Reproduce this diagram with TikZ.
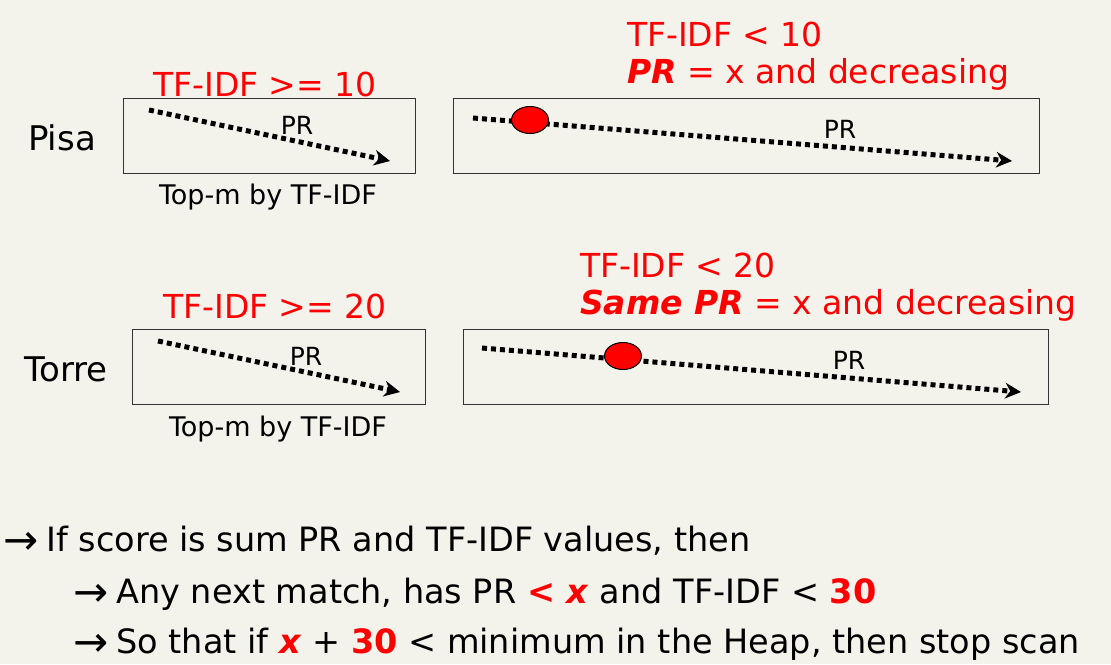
\documentclass[tikz,border=0pt]{standalone}
\usepackage{fontspec}
\usepackage{xcolor}
\usetikzlibrary{arrows.meta,shapes.geometric}
\setmainfont{DejaVu Sans}
\definecolor{paper}{HTML}{F3F2EB}
\def\big{\fontsize{33}{40}\selectfont}
\def\name{\fontsize{34}{40}\selectfont}
\def\mid{\fontsize{27}{32}\selectfont}
\def\small{\fontsize{25}{30}\selectfont}
\def\bottom{\fontsize{33.5}{40}\selectfont}
\def\bullet{\raisebox{-3pt}{\fontsize{42}{40}\selectfont →}\hspace{8pt}}
\tikzset{
  listbox/.style={draw=black!80, line width=1pt},
  scanline/.style={line width=5pt, dash pattern=on 5pt off 4pt, -{Stealth[length=16pt,width=16pt,line width=0pt]}},
  hit/.style={ellipse, draw=black, line width=1pt, fill=red, minimum width=37pt, minimum height=27pt, inner sep=0pt},
  cond/.style={text=red, font=\big, inner sep=0pt},
  concl/.style={font=\bottom, anchor=west, inner sep=0pt},
}

\begin{document}
\begin{tikzpicture}[x=1pt,y=-1pt]
\fill[paper] (0,0) rectangle (1111,664);
\useasboundingbox (0,0) rectangle (1111,664);

% Pisa
\node[font=\name] (pisa) at (62,138) {Pisa};
\draw[listbox] (123,98) rectangle (415,173);
\draw[listbox] (453,98) rectangle (1039,173);
\node[cond] (pisatop) at (265,84) {TF-IDF >= 10};
\node[font=\mid] (pisatopm) at (268,197) {Top-m by TF-IDF};
\coordinate (pisaa) at (149,110);
\coordinate (pisab) at (390,161);
\draw[scanline] (pisaa) -- (pisab);
\node[font=\small] (pisapr) at (297,125) {PR};
\coordinate (pisac) at (473,118);
\coordinate (pisad) at (1012,161);
\draw[scanline] (pisac) -- (pisad);
\node[hit] (pisahit) at (530,120) {};
\node[font=\small] (pisapr2) at (840,129) {PR};
\node[cond, anchor=west] (pisalow) at (627,34) {TF-IDF < 10};
\node[cond, anchor=west] (pisapr3) at (627,74) {\textbf{\textit{PR}} = x and decreasing};

% Torre
\node[font=\name] (torre) at (66,369) {Torre};
\draw[listbox] (132,329) rectangle (425,404);
\draw[listbox] (463,329) rectangle (1048,404);
\node[cond] (torretop) at (275,306) {TF-IDF >= 20};
\node[font=\mid] (torretopm) at (278,429) {Top-m by TF-IDF};
\coordinate (torrea) at (158,341);
\coordinate (torreb) at (400,392);
\draw[scanline] (torrea) -- (torreb);
\node[font=\small] (torrepr) at (306,356) {PR};
\coordinate (torrec) at (482,348);
\coordinate (torred) at (1021,392);
\draw[scanline] (torrec) -- (torred);
\node[hit] (torrehit) at (623,356) {};
\node[font=\small] (torrepr2) at (849,360) {PR};
\node[cond, anchor=west] (torrelow) at (580,265) {TF-IDF < 20};
\node[cond, anchor=west] (torresame) at (580,305) {\textbf{\textit{Same PR}} = x and decreasing};

% conclusion
\node[concl] (line1) at (3,541) {\bullet If score is sum PR and TF-IDF values, then};
\node[concl] (line2) at (73,594) {\bullet Any next match, has PR \textcolor{red}{\textbf{< \textit{x}}} and TF-IDF < \textcolor{red}{\textbf{30}}};
\node[concl] (line3) at (73,644) {\bullet So that if \textcolor{red}{\textbf{\textit{x}}} + \textcolor{red}{\textbf{30}} < minimum in the Heap, then stop scan};
\end{tikzpicture}
\end{document}
